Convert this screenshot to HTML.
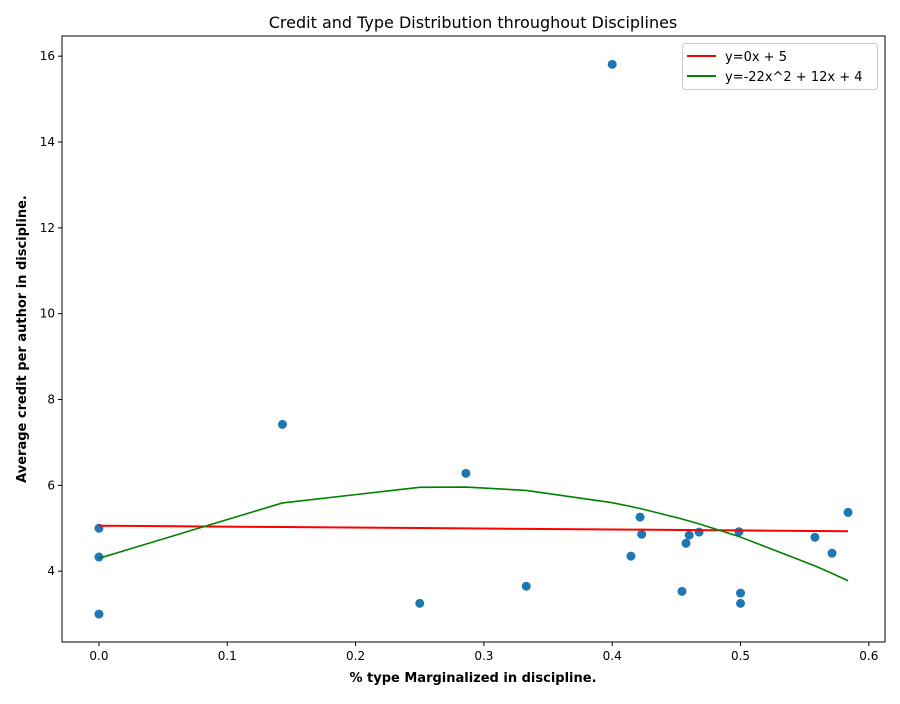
<!DOCTYPE html>
<html><head><meta charset="utf-8"><style>
body{margin:0;background:#fff;font-family:"DejaVu Sans","Liberation Sans",sans-serif;}
svg text{font-family:"DejaVu Sans","Liberation Sans",sans-serif;}
</style></head><body>
<svg id="chart" width="900" height="700">
<rect x="0" y="0" width="900" height="700" fill="#fff"/>
<g id="plot"></g>
</svg>
<script>
const xs=[0,0,0,0.143,0.25,0.286,0.333,0.4,0.4146,0.4217,0.423,0.4544,0.4575,0.46,0.4677,0.4988,0.5,0.5,0.558,0.5713,0.5838];
const ys=[5.0,4.33,3.0,7.42,3.25,6.28,3.65,15.81,4.35,5.26,4.86,3.53,4.65,4.84,4.91,4.92,3.49,3.25,4.79,4.42,5.37];
const linFit=[-0.22,5.06];
const quadFit=[-22.5,12.24,4.30];
const xTicks=[0,0.1,0.2,0.3,0.4,0.5,0.6];
const yTicks=[4,6,8,10,12,14,16];
const L=62,R=885,T=36,B=642;
const xMin=-0.0288,xMax=0.6126,yMin=2.35,yMax=16.47;
const sx=v=>L+(v-xMin)/(xMax-xMin)*(R-L);
const sy=v=>B-(v-yMin)/(yMax-yMin)*(B-T);
const NS="http://www.w3.org/2000/svg";
const g=document.getElementById('plot');
function mk(t,a,p){const e=document.createElementNS(NS,t);for(const k in a)e.setAttribute(k,a[k]);(p||g).appendChild(e);return e;}
// ticks
xTicks.forEach(v=>{const x=sx(v);
 const l=mk('line',{x1:x,x2:x,y1:B,y2:B+4,stroke:'#000'});
 
 
 const t=mk('text',{x:x,y:B+18,'text-anchor':'middle','font-size':12});t.textContent=v.toFixed(1);
 
 });
yTicks.forEach(v=>{const y=sy(v);
 const l=mk('line',{x1:L-4,x2:L,y1:y,y2:y,stroke:'#000'});
 
 
 const t=mk('text',{x:L-7,y:y+4,'text-anchor':'end','font-size':12});t.textContent=v;
 
 });
// points
xs.forEach((x,i)=>{const c=mk('circle',{cx:sx(x),cy:sy(ys[i]),r:4.5,fill:'#1f77b4'});
 
 });
// fit lines along sorted x
const sorted=xs.map((x,i)=>i).sort((a,b)=>xs[a]-xs[b]);
let pl='',pq='';
sorted.forEach(i=>{const x=xs[i];
 pl+=sx(x)+','+sy(linFit[0]*x+linFit[1])+' ';
 pq+=sx(x)+','+sy(quadFit[0]*x*x+quadFit[1]*x+quadFit[2])+' ';});
const lr=mk('polyline',{points:pl,fill:'none',stroke:'#ff0000','stroke-width':2});


const lq=mk('polyline',{points:pq,fill:'none',stroke:'#008000','stroke-width':1.6});


const fr=mk('rect',{x:L,y:T,width:R-L,height:B-T,fill:'none',stroke:'#000','stroke-width':1});


</script>
<svg style="position:absolute;left:0;top:0" width="900" height="700">
<text x="473" y="28" text-anchor="middle" font-size="16">Credit and Type Distribution throughout Disciplines</text>
<text x="473" y="682" text-anchor="middle" font-size="13" font-weight="bold">% type Marginalized in discipline.</text>
<text transform="translate(26,339) rotate(-90)" text-anchor="middle" font-size="13" font-weight="bold">Average credit per author in discipline.</text>
<g>
<rect x="682.5" y="43.5" width="195" height="46" rx="3" fill="#fff" stroke="#ccc"/>
<line x1="687" x2="716" y1="56" y2="56" stroke="#ff0000" stroke-width="2"/>
<text x="725" y="61" font-size="13">y=0x + 5</text>
<line x1="687" x2="716" y1="76" y2="76" stroke="#008000" stroke-width="2"/>
<text x="725" y="81" font-size="13">y=-22x^2 + 12x + 4</text>
</g>
</svg>
</body></html>
